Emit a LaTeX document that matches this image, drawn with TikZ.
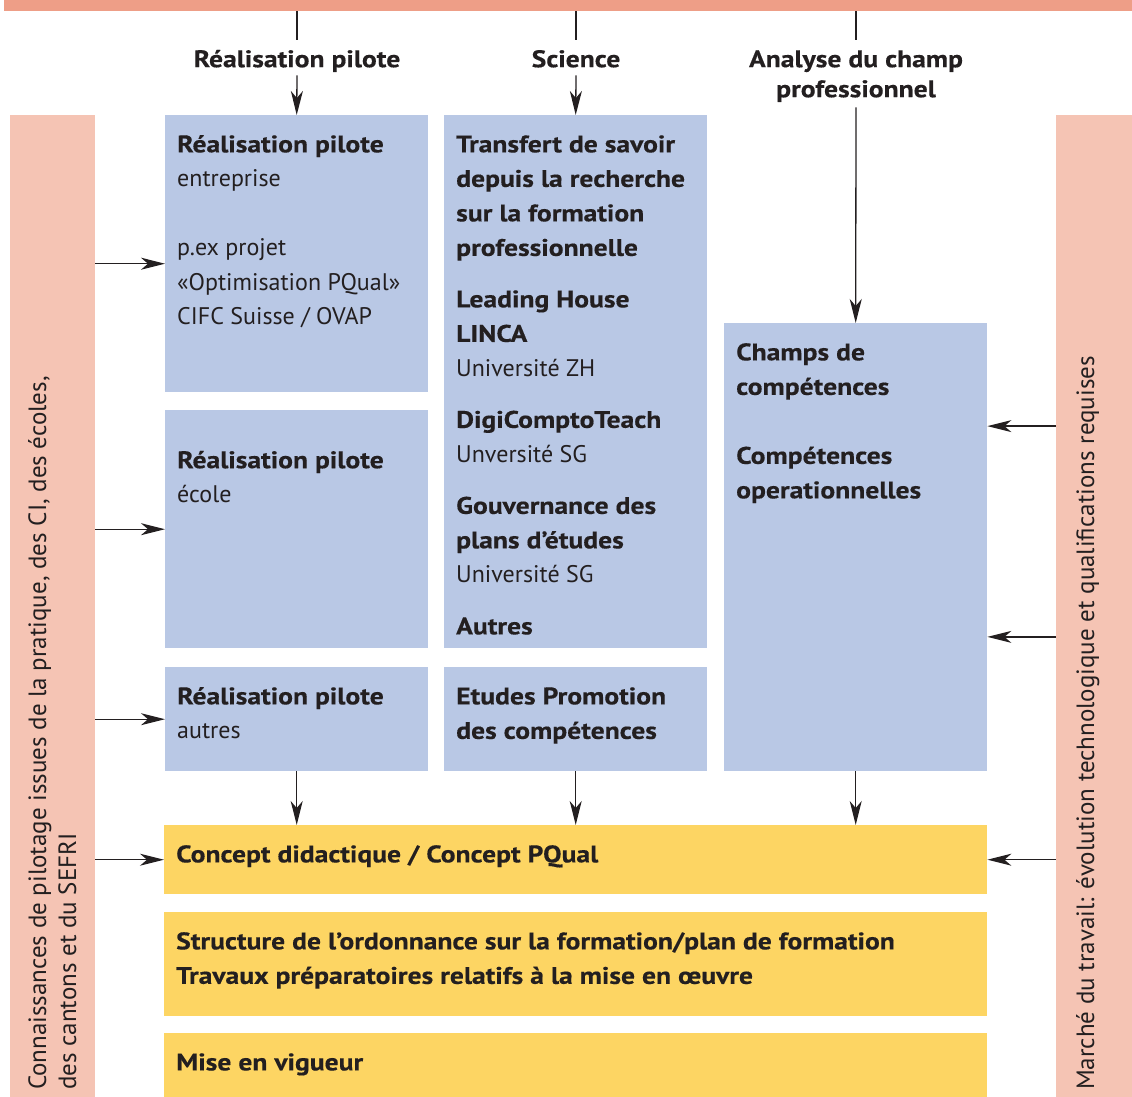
\documentclass[tikz,border=0pt]{standalone}
\usepackage{fontspec}
\setmainfont{PT Sans}[BoldFeatures={FakeStretch=1.15,FakeBold=0.4}]
\usetikzlibrary{arrows.meta,calc}
\definecolor{saumon}{HTML}{EE9E87}
\definecolor{rose}{HTML}{F5C4B4}
\definecolor{bleu}{HTML}{B9C8E5}
\definecolor{jaune}{HTML}{FDD563}
\definecolor{encre}{HTML}{231F20}
\begin{document}
\begin{tikzpicture}[x=1pt,y=-1pt]
    % Styles
    \tikzstyle{fleche}=[-{Stealth[length=24pt,width=12pt,inset=7pt]},line width=1.3pt,draw=encre]
    \tikzstyle{trait}=[line width=1.3pt,draw=encre]
    \tikzstyle{bande}=[anchor=north west,inner sep=0pt]
    \tikzstyle{boite}=[anchor=north west,inner xsep=12pt,inner ysep=13pt,text=encre,font=\fontsize{24}{34.5}\selectfont]
    \tikzstyle{entete}=[anchor=north,inner sep=0pt,align=center,text=encre,font=\bfseries\fontsize{24}{30}\selectfont]
    \tikzstyle{cote}=[rotate=90,inner sep=0pt,align=left,text=encre,font=\fontsize{25}{30}\selectfont]
    % Dimensions
    \def\Appui{\rule[-8pt]{0pt}{35pt}}
    \def\Texte#1#2#3{\parbox[t][#2][t]{#1}{\strut#3}}
    \useasboundingbox (0,0) rectangle (1132,1097);
    % Bandes
    \node[bande,fill=saumon,minimum width=1128pt,minimum height=11pt] (barre) at (4,0) {};
    \node[bande,fill=rose,minimum width=85pt,minimum height=982pt] (gauche) at (10,115) {};
    \node[bande,fill=rose,minimum width=76pt,minimum height=982pt] (droite) at (1056,115) {};
    \node[cote,anchor=north west] (tGauche) at (28,1090) {Connaissances de pilotage issues de la pratique, des CI, des écoles,\\des cantons et du SEFRI};
    \node[cote,anchor=base west] (tDroite) at (1094,1090) {Marché du travail: évolution technologique et qualifications requises};
    % Entetes
    \node[entete] (hPilote) at (297,40) {\Appui Réalisation pilote};
    \node[entete] (hScience) at (576,40) {\Appui Science};
    \node[entete] (hAnalyse) at (856,40) {\Appui Analyse du champ\\professionnel\rule[-10pt]{0pt}{10pt}};
    % Boites
    \node[boite,fill=bleu] (rp1) at (165,115) {\Texte{239pt}{251pt}{\textbf{Réalisation pilote}\\entreprise\\[34.5pt]p.ex projet\\«Optimisation PQual»\\CIFC Suisse / OVAP}};
    \node[boite,fill=bleu] (rp2) at (165,410) {\Texte{239pt}{212pt}{\rule{0pt}{45pt}\textbf{Réalisation pilote}\\école}};
    \node[boite,fill=bleu] (rp3) at (165,667) {\Texte{239pt}{78pt}{\textbf{Réalisation pilote}\\autres}};
    \node[boite,fill=bleu] (sci) at (444,115) {\Texte{239pt}{507pt}{\textbf{Transfert de savoir}\\\textbf{depuis la recherche}\\\textbf{sur la formation}\\\textbf{professionnelle}\\[17pt]\textbf{Leading House}\\\textbf{LINCA}\\Université ZH\\[17pt]\textbf{DigiComptoTeach}\\Unversité SG\\[17pt]\textbf{Gouvernance des}\\\textbf{plans d’études}\\Université SG\\[17pt]\textbf{Autres}}};
    \node[boite,fill=bleu] (etu) at (444,667) {\Texte{239pt}{78pt}{\textbf{Etudes Promotion}\\\textbf{des compétences}}};
    \node[boite,fill=bleu] (cha) at (724,323) {\Texte{239pt}{422pt}{\textbf{Champs de}\\\textbf{compétences}\\[34.5pt]\textbf{Compétences}\\\textbf{operationnelles}}};
    \node[boite,fill=jaune] (y1) at (164,825) {\Texte{799pt}{43pt}{\textbf{Concept didactique / Concept PQual}}};
    \node[boite,fill=jaune] (y2) at (164,912) {\Texte{799pt}{78pt}{\textbf{Structure de l’ordonnance sur la formation/plan de formation}\\\textbf{Travaux préparatoires relatifs à la mise en œuvre}}};
    \node[boite,fill=jaune] (y3) at (164,1033) {\Texte{799pt}{38pt}{\textbf{Mise en vigueur}}};
    % Points d'arrivee
    \coordinate (e1) at ($(rp1.west)+(0,10)$);
    \coordinate (d1) at ($(cha.north east)!0.23!(cha.south east)$);
    \coordinate (d2) at ($(cha.north east)!0.70!(cha.south east)$);
    % Arcs
    \draw[trait] (hPilote.north |- barre.south) -- (hPilote.north);
    \draw[trait] (hScience.north |- barre.south) -- (hScience.north);
    \draw[trait] (hAnalyse.north |- barre.south) -- (hAnalyse.north);
    \draw[fleche] (hPilote.south) -- (rp1.north);
    \draw[fleche] (hScience.south) -- (sci.north);
    \draw[fleche] (hAnalyse.south) -- (cha.north);
    \draw[fleche] (gauche.east |- e1) -- (e1);
    \draw[fleche] (gauche.east |- rp2.west) -- (rp2.west);
    \draw[fleche] (gauche.east |- rp3.west) -- (rp3.west);
    \draw[fleche] (gauche.east |- y1.west) -- (y1.west);
    \draw[fleche] (droite.west |- d1) -- (d1);
    \draw[fleche] (droite.west |- d2) -- (d2);
    \draw[fleche] (droite.west |- y1.east) -- (y1.east);
    \draw[fleche] (rp3.south) -- (rp3.south |- y1.north);
    \draw[fleche] (etu.south) -- (etu.south |- y1.north);
    \draw[fleche] (cha.south) -- (cha.south |- y1.north);
\end{tikzpicture}
\end{document}
